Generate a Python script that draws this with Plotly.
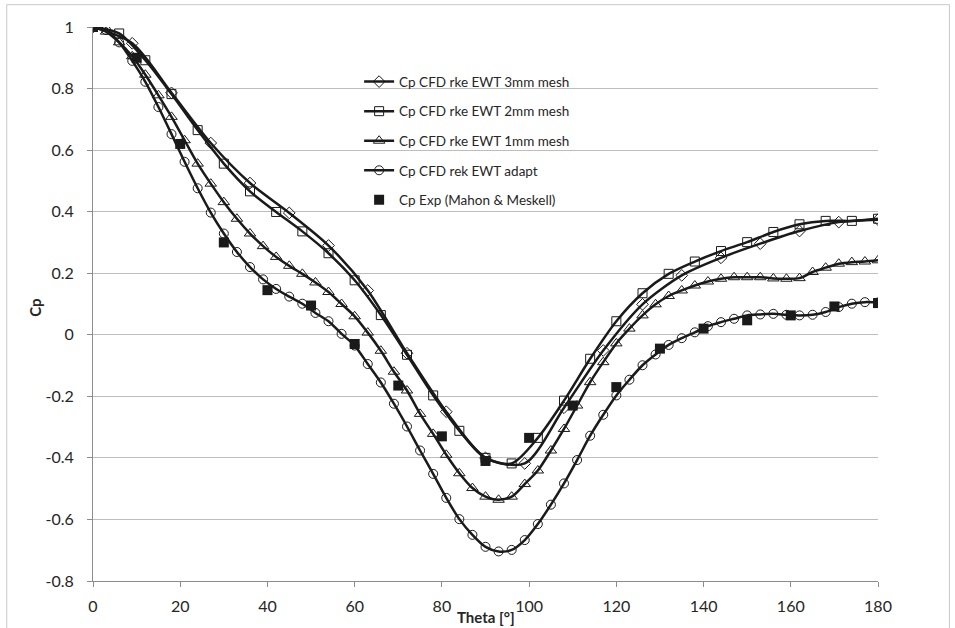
import plotly.graph_objects as go

# Pressure coefficient around the cylinder, theta in degrees
theta_3mm = list(range(0, 181, 9))
cp_3mm = [1.0, 0.947, 0.786, 0.623, 0.493, 0.396, 0.290, 0.144, -0.060, -0.250,
          -0.400, -0.418, -0.237, -0.051, 0.099, 0.193, 0.250, 0.296, 0.337, 0.366, 0.374]

theta_2mm = list(range(0, 181, 6))
cp_2mm = [1.0, 0.979, 0.892, 0.782, 0.665, 0.556, 0.466, 0.399, 0.336, 0.265,
          0.177, 0.064, -0.065, -0.197, -0.312, -0.400, -0.418, -0.335, -0.214, -0.078,
          0.044, 0.135, 0.198, 0.238, 0.272, 0.301, 0.334, 0.359, 0.370, 0.370, 0.377]

theta_1mm = list(range(0, 181, 3))
cp_1mm = [1.0, 0.985, 0.950, 0.905, 0.845, 0.778, 0.708, 0.632, 0.556, 0.491,
          0.431, 0.377, 0.329, 0.288, 0.253, 0.224, 0.198, 0.170, 0.139, 0.100,
          0.060, 0.007, -0.052, -0.120, -0.181, -0.257, -0.322, -0.390, -0.450, -0.498,
          -0.526, -0.536, -0.526, -0.485, -0.441, -0.376, -0.306, -0.230, -0.154, -0.089,
          -0.028, 0.020, 0.063, 0.099, 0.126, 0.144, 0.160, 0.173, 0.182, 0.187,
          0.187, 0.187, 0.183, 0.182, 0.184, 0.204, 0.218, 0.231, 0.236, 0.238, 0.242]

theta_adapt = list(range(0, 181, 3))
cp_adapt = [1.0, 0.990, 0.950, 0.890, 0.822, 0.740, 0.652, 0.562, 0.476, 0.397,
            0.329, 0.269, 0.220, 0.180, 0.149, 0.124, 0.101, 0.071, 0.044, 0.003,
            -0.035, -0.095, -0.155, -0.224, -0.298, -0.376, -0.452, -0.530, -0.599, -0.650,
            -0.689, -0.704, -0.699, -0.667, -0.615, -0.552, -0.483, -0.407, -0.328, -0.260,
            -0.197, -0.146, -0.099, -0.064, -0.033, -0.011, 0.008, 0.028, 0.041, 0.052,
            0.063, 0.066, 0.068, 0.065, 0.063, 0.065, 0.074, 0.090, 0.101, 0.106, 0.105]

theta_exp = list(range(0, 181, 10))
cp_exp = [1.0, 0.90, 0.62, 0.30, 0.145, 0.095, -0.03, -0.165, -0.33, -0.41,
          -0.335, -0.23, -0.17, -0.045, 0.02, 0.047, 0.063, 0.092, 0.103]

y_ticks = [-0.8, -0.6, -0.4, -0.2, 0, 0.2, 0.4, 0.6, 0.8, 1]
y_tick_text = ["-0.8", "-0.6", "-0.4", "-0.2", "0", "0.2", "0.4", "0.6", "0.8", "1"]
x_ticks = list(range(0, 181, 20))

FONT = "Lato"
INK = "#262626"

fig = go.Figure()

cfd_series = [
    ("Cp CFD rke EWT 3mm mesh", theta_3mm, cp_3mm, "diamond-open", 9),
    ("Cp CFD rke EWT 2mm mesh", theta_2mm, cp_2mm, "square-open", 9),
    ("Cp CFD rke EWT 1mm mesh", theta_1mm, cp_1mm, "triangle-up-open", 10),
    ("Cp CFD rek EWT adapt", theta_adapt, cp_adapt, "circle-open", 9),
]
for i, (name, xs, ys, sym, sz) in enumerate(cfd_series):
    fig.add_trace(go.Scatter(
        x=xs, y=ys, name=name, mode="lines+markers",
        line=dict(color="#1a1a1a", width=2.5, shape="spline", smoothing=0.8),
        marker=dict(symbol=sym, size=sz, color="#1a1a1a", line=dict(width=1)),
        legendgroup=f"g{i}",
    ))

fig.add_trace(go.Scatter(
    x=theta_exp, y=cp_exp, name="Cp Exp (Mahon & Meskell)", mode="markers",
    marker=dict(symbol="square", size=10, color="#1a1a1a"),
    legendgroup="g4",
))

fig.update_layout(
    width=955, height=628,
    margin=dict(l=93, r=77, t=27, b=47),
    paper_bgcolor="white", plot_bgcolor="white",
    font=dict(family=FONT, size=16, color=INK),
    showlegend=True,
    legend=dict(
        x=0.339, y=0.929, xanchor="left", yanchor="top",
        bgcolor="rgba(0,0,0,0)", font=dict(family=FONT, size=13.5, color=INK),
        tracegroupgap=9, itemwidth=30,
    ),
    shapes=[dict(
        type="rect", xref="paper", yref="paper",
        x0=-0.1099, x1=1.091, y0=-0.2, y1=1.0403,
        line=dict(color="#c8c8c8", width=1), layer="below",
    )],
    annotations=[
        dict(text="<b>Theta [°]</b>", xref="paper", yref="paper", x=0.5, y=-0.065,
             xanchor="center", yanchor="middle", showarrow=False,
             font=dict(family=FONT, size=15, color=INK)),
        dict(text="<b>Cp</b>", xref="paper", yref="paper", x=-0.0739, y=0.493,
             xanchor="center", yanchor="middle", showarrow=False, textangle=-90,
             font=dict(family=FONT, size=15, color=INK)),
    ],
)

fig.update_xaxes(
    range=[0, 180], tickvals=x_ticks, showgrid=False, zeroline=False,
    showline=True, linecolor="#8c8c8c", linewidth=1,
    ticks="outside", ticklen=5, tickcolor="#8c8c8c", ticklabelstandoff=6,
    tickfont=dict(family=FONT, size=16, color=INK),
)
fig.update_yaxes(
    range=[-0.8, 1.0], tickvals=y_ticks, ticktext=y_tick_text,
    showgrid=True, gridcolor="#bdbdbd", gridwidth=1, zeroline=False,
    showline=True, linecolor="#8c8c8c", linewidth=1,
    ticks="outside", ticklen=5, tickcolor="#8c8c8c", ticklabelstandoff=10,
    tickfont=dict(family=FONT, size=16, color=INK),
)

fig.write_html("out.html")
